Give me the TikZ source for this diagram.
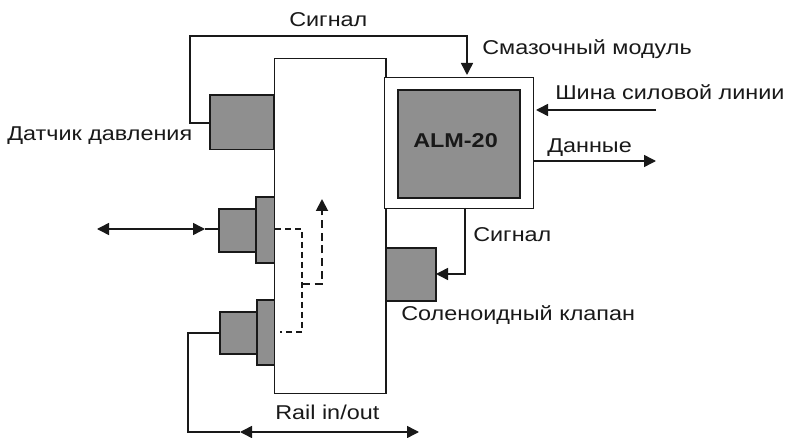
\documentclass[tikz,border=0pt]{standalone}
\usepackage{fontspec}
\setmainfont[FakeStretch=1.17]{Liberation Sans}
\usetikzlibrary{arrows.meta}
\definecolor{fillgrey}{gray}{0.56}
\definecolor{inkc}{gray}{0.1}
\tikzset{
  block/.style={draw=inkc,line width=1.3pt,fill=fillgrey,inner sep=0pt,minimum width=#1},
  frame/.style={draw=inkc,line width=1.1pt,fill=white,inner sep=0pt},
  wire/.style={draw=inkc,line width=1.1pt},
  tip/.style={-{Triangle[length=9pt,width=9pt]}},
  both/.style={{Triangle[length=9pt,width=9pt]}-{Triangle[length=9pt,width=9pt]}},
  thindash/.style={draw=inkc,line width=0.8pt,dash pattern=on 4.5pt off 3pt},
  thickdash/.style={draw=inkc,line width=1.4pt,dash pattern=on 6pt off 3.5pt},
  lab/.style={inner sep=0pt,font=\fontsize{15pt}{18pt}\selectfont,text=inkc,anchor=base west},
}
\begin{document}
\begin{tikzpicture}[x=0.75pt,y=-0.75pt]
\useasboundingbox (0,0) rectangle (786,438);
\fill[white] (0,0) rectangle (786,438);
% sensor and ports behind the rail
\node[block=48pt,minimum height=41pt,anchor=north west] (sensor) at (209,94) {};
\node[block=28pt,minimum height=32.25pt,anchor=north west] (portAw) at (218,208) {};
\node[block=14.25pt,minimum height=49.5pt,anchor=north west] (portAn) at (255,196) {};
\node[block=28.5pt,minimum height=31.5pt,anchor=north west] (portBw) at (219,311) {};
\node[block=14.25pt,minimum height=48.75pt,anchor=north west] (portBn) at (256,299) {};
% rail
\node[frame,minimum width=83.5pt,minimum height=251.25pt,anchor=north west] (rail) at (274,58) {};
% module
\node[frame,minimum width=111.75pt,minimum height=98.25pt,anchor=north west] (module) at (384,77) {};
\node[block=91.5pt,minimum height=81pt,anchor=north west] (alm) at (397,89) {};
\node[inner sep=0pt,font=\fontsize{15pt}{18pt}\selectfont\bfseries,text=inkc,anchor=base west] (almlab) at (413,148) {ALM-20};
% solenoid
\node[block=37.5pt,minimum height=39.75pt,anchor=north west] (sol) at (385,247) {};
% free ends
\coordinate (sigtop) at (467,75);
\coordinate (busin) at (656,110);
\coordinate (dataout) at (656,161);
\coordinate (leftend) at (97,229);
\coordinate (leftmid) at (205,229);
\coordinate (railL) at (240,432);
\coordinate (railR) at (419,432);
\coordinate (dashA) at (275,229);
\coordinate (dashB) at (280,332);
\coordinate (dashJ) at (302,284);
\coordinate (dashT) at (322,199);
% connectors
\draw[wire,tip] (sensor.west |- 0,123) -- (190,123) -- (190,36) -- (467,36) -- (sigtop);
\draw[wire,tip] (busin) -- (536,110);
\draw[wire,tip] (533,161) -- (dataout);
\draw[wire,tip] (465,208) -- (465,274) -- (436,274);
\draw[wire,both] (leftend) -- (leftmid);
\draw[wire] (leftmid) -- (portAw.west |- leftmid);
\draw[wire] (portBw.west |- 0,333) -- (188,333) -- (188,432) -- (railL);
\draw[wire,both] (railL) -- (railR);
\draw[thindash] (dashA) -- (302,229) -- (302,332) -- (dashB);
\draw[thickdash,-{Triangle[length=9pt,width=9pt]}] (dashJ) -- (322,284) -- (dashT);
% labels
\node[lab] (t1) at (289,27) {Сигнал};
\node[lab] (t2) at (482,55) {Смазочный модуль};
\node[lab] (t3) at (555,100) {Шина силовой линии};
\node[lab] (t4) at (547,153) {Данные};
\node[lab] (t5) at (473,242) {Сигнал};
\node[lab] (t6) at (401,321) {Соленоидный клапан};
\node[lab] (t7) at (7,141) {Датчик давления};
\node[lab] (t8) at (275,420) {Rail in/out};
\end{tikzpicture}
\end{document}
